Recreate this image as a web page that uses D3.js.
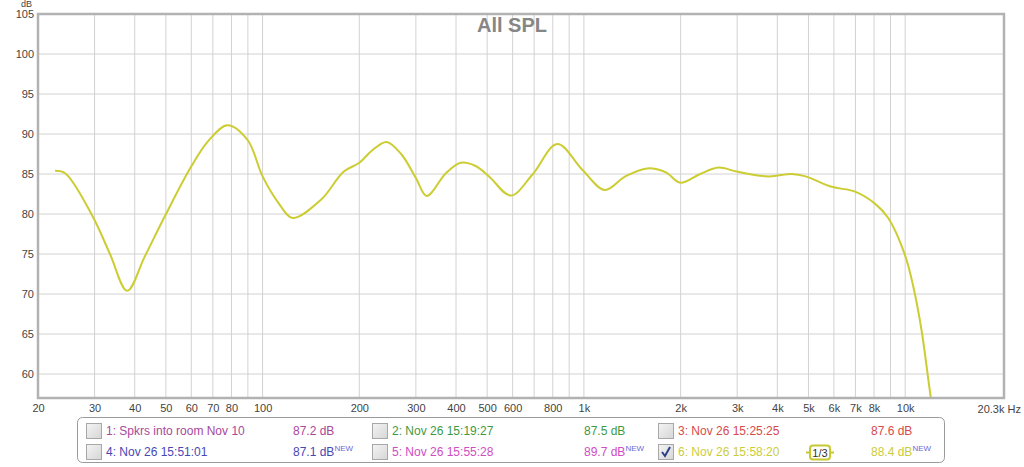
<!DOCTYPE html>
<html><head><meta charset="utf-8">
<script src="https://cdn.jsdelivr.net/npm/d3@7"></script>
<style>
html,body{margin:0;padding:0;background:#fff;}
svg{display:block;font-family:"Liberation Sans",Arial,sans-serif;}
</style></head>
<body>
<svg id="chart" width="1024" height="467"></svg>
<script>
// ---- data ----
const freqHz = [22.6, 24.3, 29.6, 33.5, 37.9, 43, 49.9, 59.9, 68, 77.8, 89.8, 100, 112, 124, 151.7, 179, 200, 220, 243, 270, 300, 324, 372, 414, 460, 507, 592, 691, 826, 990, 1162, 1346, 1573, 1800, 1996, 2300, 2626, 2993, 3754, 4437, 4900, 5902, 6978, 8050, 8855, 9980, 10600, 11240, 12020, 12600];
const splDb  = [85.4, 85.1, 79.7, 75.0, 70.4, 74.7, 79.9, 85.9, 89.2, 91.1, 89.25, 84.7, 81.4, 79.5, 81.75, 85.3, 86.4, 88.0, 89.0, 87.5, 84.5, 82.25, 85.1, 86.4, 86.0, 84.7, 82.3, 84.9, 88.75, 85.5, 83.0, 84.7, 85.7, 85.2, 83.9, 85.0, 85.8, 85.3, 84.7, 85.0, 84.7, 83.4, 82.8, 81.3, 79.5, 74.9, 70.9, 65.5, 57.0, 52.0];
const yTicks = [60, 65, 70, 75, 80, 85, 90, 95, 100, 105];
const xGrid = [30,40,50,60,70,80,90,100,200,300,400,500,600,700,800,900,1000,2000,3000,4000,5000,6000,7000,8000,9000,10000];
const xTickValues = [20,30,40,50,60,70,80,100,200,300,400,500,600,800,1000,2000,3000,4000,5000,6000,7000,8000,10000];
const xTickLabels = ["20","30","40","50","60","70","80","100","200","300","400","500","600","800","1k","2k","3k","4k","5k","6k","7k","8k","10k"];
const legendNames = ["1: Spkrs into room Nov 10","2: Nov 26 15:19:27","3: Nov 26 15:25:25","4: Nov 26 15:51:01","5: Nov 26 15:55:28","6: Nov 26 15:58:20"];
const legendValues = ["87.2 dB","87.5 dB","87.6 dB","87.1 dB","89.7 dB","88.4 dB"];
const legendNew = [false,false,false,true,true,true];
const legendChecked = [false,false,false,false,false,true];
const legendColors = ["#a8489c","#3f9a3f","#d84a4a","#4848b4","#d04cc4","#cccc3a"];

// ---- layout ----
const svg = d3.select("#chart");
const L = 38, R = 1004, T = 14, B = 398;
const x = d3.scaleLog().domain([20, 20300]).range([L, R]);
const y = d3.scaleLinear().domain([57, 105]).range([B, T]);

// grid
const g = svg.append("g");
g.selectAll("line.vg").data(xGrid).enter().append("line")
  .attr("x1", d => x(d)).attr("x2", d => x(d)).attr("y1", T).attr("y2", B)
  .attr("stroke", "#d2d2d2").attr("stroke-width", 1);
g.selectAll("line.hg").data(yTicks).enter().append("line")
  .attr("x1", L).attr("x2", R).attr("y1", d => y(d)).attr("y2", d => y(d))
  .attr("stroke", "#d2d2d2").attr("stroke-width", 1);

// title
svg.append("text").attr("x", 512).attr("y", 32).attr("text-anchor", "middle")
  .attr("font-size", 20).attr("font-weight", "bold").attr("fill", "#868686").text("All SPL");

// curve
svg.append("clipPath").attr("id", "clip").append("rect")
  .attr("x", L).attr("y", T).attr("width", R - L).attr("height", B - T);
const pts = freqHz.map((f, i) => [f, splDb[i]]);
const line = d3.line().x(d => x(d[0])).y(d => y(d[1])).curve(d3.curveCatmullRom.alpha(0.5));
svg.append("path").attr("d", line(pts)).attr("clip-path", "url(#clip)")
  .attr("fill", "none").attr("stroke", "#cccc33").attr("stroke-width", 2);

// frame
svg.append("rect").attr("x", L).attr("y", T).attr("width", R - L).attr("height", B - T)
  .attr("fill", "none").attr("stroke", "#b2b2b2").attr("stroke-width", 2.5);

// axes
const yAxis = d3.axisLeft(y).tickValues(yTicks).tickSize(0).tickPadding(4);
const ya = svg.append("g").attr("transform", `translate(${L},0)`).call(yAxis);
ya.select(".domain").remove();
ya.selectAll("text").attr("font-size", 11).attr("fill", "#444").attr("font-family", "Liberation Sans, Arial, sans-serif");

const xAxis = d3.axisBottom(x).tickValues(xTickValues).tickFormat((d, i) => xTickLabels[i]).tickSize(0).tickPadding(6);
const xa = svg.append("g").attr("transform", `translate(0,${B})`).call(xAxis);
xa.select(".domain").remove();
xa.selectAll("text").attr("font-size", 11).attr("fill", "#444").attr("font-family", "Liberation Sans, Arial, sans-serif");

svg.append("text").attr("x", 1021).attr("y", 413).attr("text-anchor", "end")
  .attr("font-size", 11).attr("fill", "#444").text("20.3k Hz");
svg.append("text").attr("x", 21).attr("y", 7).attr("font-size", 9).attr("fill", "#444").text("dB");

// legend
const lg = svg.append("g");
lg.append("rect").attr("x", 77.5).attr("y", 417.5).attr("width", 867).attr("height", 45)
  .attr("rx", 5).attr("fill", "#fff").attr("stroke", "#9a9a9a");
const defs = svg.append("defs");
const grad = defs.append("linearGradient").attr("id", "cb").attr("x1", 0).attr("y1", 0).attr("x2", 1).attr("y2", 1);
grad.append("stop").attr("offset", "0%").attr("stop-color", "#f4f4f4");
grad.append("stop").attr("offset", "100%").attr("stop-color", "#d6d6d6");

const colX = [86, 372, 658];
const valX = [293, 584, 871];
const rowY = [423, 444];
legendNames.forEach((name, i) => {
  const c = i % 3, r = Math.floor(i / 3);
  const cx = colX[c], cy = rowY[r];
  lg.append("rect").attr("x", cx + 0.5).attr("y", cy + 0.5).attr("width", 15).attr("height", 15)
    .attr("fill", "url(#cb)").attr("stroke", "#a8a8a8");
  if (legendChecked[i]) {
    lg.append("path").attr("d", `M${cx+4},${cy+8} L${cx+7},${cy+12} L${cx+12},${cy+3}`)
      .attr("fill", "none").attr("stroke", "#2a3f8a").attr("stroke-width", 2);
  }
  lg.append("text").attr("x", cx + 20).attr("y", cy + 12).attr("font-size", 12)
    .attr("fill", legendColors[i]).text(name);
  const vt = lg.append("text").attr("x", valX[c]).attr("y", cy + 12).attr("font-size", 12)
    .attr("fill", legendColors[i]).text(legendValues[i]);
  if (legendNew[i]) {
    vt.append("tspan").attr("dy", -5).attr("font-size", 8).attr("fill", "#6a6ad8").text("NEW");
  }
});
// 1/3 smoothing badge
const bx = 820, by = 452.5;
lg.append("line").attr("x1", bx - 14).attr("x2", bx + 14).attr("y1", by).attr("y2", by).attr("stroke", "#c8c830").attr("stroke-width", 2);
lg.append("rect").attr("x", bx - 10).attr("y", by - 7).attr("width", 20).attr("height", 14).attr("rx", 3)
  .attr("fill", "#fff").attr("stroke", "#c8c830").attr("stroke-width", 2);
lg.append("text").attr("x", bx).attr("y", by + 4).attr("text-anchor", "middle").attr("font-size", 11)
  .attr("fill", "#333").text("1/3");
</script>
</body></html>
